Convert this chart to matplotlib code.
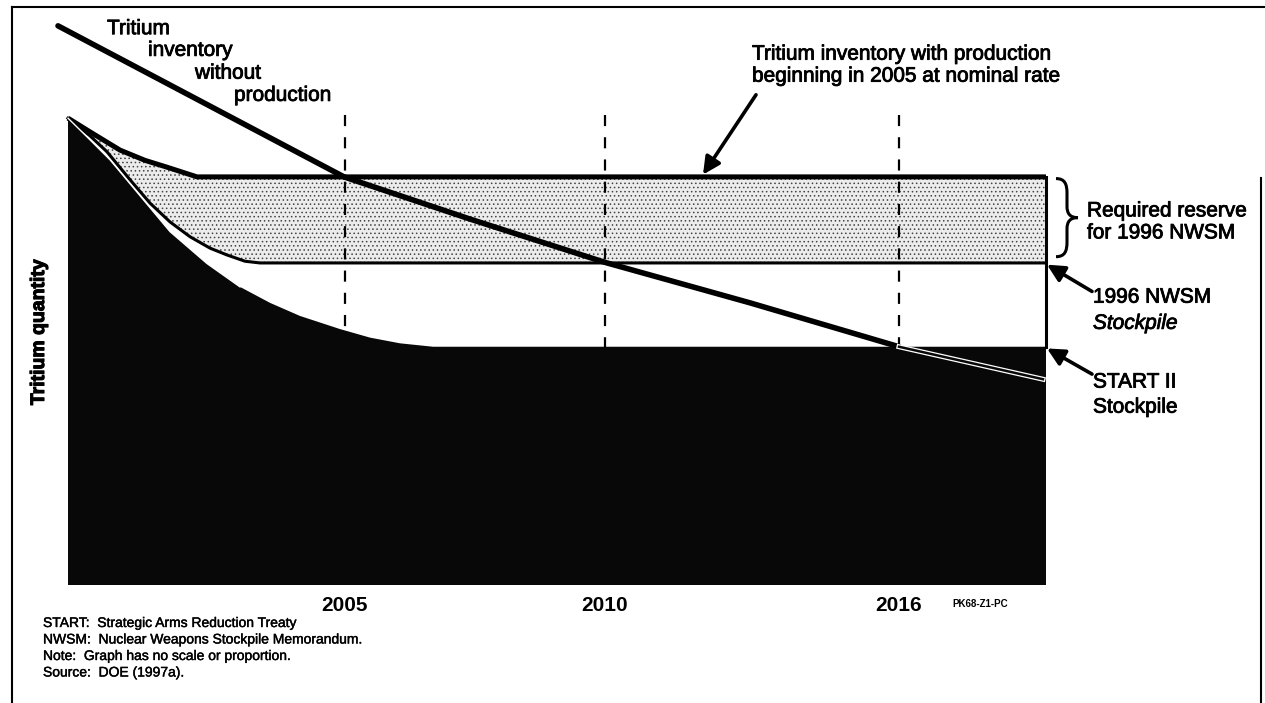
import matplotlib.pyplot as plt
import matplotlib.patheffects as pe
from matplotlib.lines import Line2D
from matplotlib.path import Path
from matplotlib.patches import PathPatch

plt.rcParams['font.family'] = ['Liberation Sans', 'DejaVu Sans']
plt.rcParams['hatch.color'] = '#444444'
plt.rcParams['hatch.linewidth'] = 0.6

# arbitrary units: "graph has no scale or proportion"
# x: time position (0..100), y: tritium quantity (0..100)
no_prod_x = [0.8, 29.4, 42.0, 55.5, 70.0, 84.9, 99.3]
no_prod_y = [98.1, 71.6, 64.2, 56.6, 49.5, 41.8, 36.1]

reserve_x = [1.8, 4.0, 7.0, 9.5, 11.7, 14.7, 99.6]
reserve_y = [81.9, 79.5, 76.3, 74.5, 73.3, 71.6, 71.6]

nwsm_x = [1.8, 4.0, 5.7, 8.0, 10.0, 12.0, 14.0, 16.0, 17.7, 19.5, 21.0, 99.6]
nwsm_y = [81.9, 78.8, 76.0, 71.1, 67.0, 63.7, 61.1, 59.1, 57.9, 56.8, 56.5, 56.5]

start2_x = [1.8, 4.0, 6.0, 9.0, 12.0, 15.7, 19.0, 22.0, 25.0, 29.0, 32.0, 35.0, 38.3, 99.6]
start2_y = [81.9, 78.1, 74.6, 68.3, 62.0, 56.4, 52.3, 49.5, 47.2, 44.9, 43.4, 42.4, 41.8, 41.8]

year_pos = [29.5, 55.5, 84.9]
year_labels = ['2005', '2010', '2016']

footnotes = [
    'START:  Strategic Arms Reduction Treaty',
    'NWSM:  Nuclear Weapons Stockpile Memorandum.',
    'Note:  Graph has no scale or proportion.',
    'Source:  DOE (1997a).',
]

heavy = [pe.withStroke(linewidth=0.6, foreground='black')]

fig = plt.figure(figsize=(12.65, 7.03), dpi=100)
ax = fig.add_axes([50 / 1265, (703 - 585) / 703, 1000 / 1265, 570 / 703])
ax.set_xlim(0, 100)
ax.set_ylim(0, 100)
for s in ax.spines.values():
    s.set_visible(False)
ax.set_yticks([])

# stippled reserve band
band_x = reserve_x + nwsm_x[::-1]
band_y = reserve_y + nwsm_y[::-1]
ax.fill(band_x, band_y, facecolor='#ececec', hatch='....', edgecolor='#444444', lw=0, zorder=1)

# dashed year markers
for xp in year_pos:
    ax.plot([xp, xp], [82.5, 40], color='black', lw=1.6, ls=(0, (5, 5)), zorder=2)

# START II stockpile (dark area)
dark_x = start2_x + [99.6, 1.8]
dark_y = start2_y + [0, 0]
ax.fill(dark_x, dark_y, facecolor='#080808', edgecolor='none', zorder=3)

# boundary lines
ax.plot(reserve_x, reserve_y, color='black', lw=3.6, solid_capstyle='butt', zorder=4)
ax.plot(nwsm_x, nwsm_y, color='black', lw=2.2, zorder=4)
ax.plot([99.6, 99.6], [71.6, 41.8], color='black', lw=2.2, zorder=4)
ax.plot(start2_x[:7], start2_y[:7], color='white', lw=1.0, zorder=4)

# tritium without production
ax.plot(no_prod_x[:6], no_prod_y[:6], color='black', lw=4.0, solid_capstyle='round', zorder=5)
ax.plot(no_prod_x[5:], no_prod_y[5:], color='white', lw=3.6, zorder=5)
ax.plot(no_prod_x[5:], no_prod_y[5:], color='#080808', lw=1.8, zorder=6)

ax.set_xticks(year_pos)
ax.set_xticklabels(year_labels, fontsize=15, fontweight='bold')
ax.tick_params(axis='x', length=0, pad=8)
ax.text(93.0, -3.3, 'PK68-Z1-PC', fontsize=7, fontweight='bold', ha='center', va='center')

ax.set_ylabel('Tritium quantity', fontsize=14, fontweight='bold',
              path_effects=[pe.withStroke(linewidth=0.8, foreground='black')])
ax.yaxis.set_label_coords(-0.002, 0.444)

# labels
left_lbl = [('Tritium', 5.7, 97.6), ('inventory', 9.8, 93.8), ('without', 14.5, 89.8), ('production', 18.4, 85.9)]
for t, xp, yp in left_lbl:
    ax.text(xp, yp, t, fontsize=15, ha='left', va='center', clip_on=False, path_effects=heavy)

ax.text(70.2, 91.2, 'Tritium inventory with production\nbeginning in 2005 at nominal rate',
        fontsize=15, ha='left', va='center', linespacing=1.2, path_effects=heavy)

arrow = dict(arrowstyle='-|>', lw=2.6, color='black', mutation_scale=26, shrinkA=0, shrinkB=0)
ax.annotate('', xy=(65.3, 72.0), xytext=(70.6, 86.0), arrowprops=arrow, zorder=7)
ax.annotate('', xy=(99.7, 56.2), xytext=(104.2, 51.5), arrowprops=arrow, annotation_clip=False, zorder=7)
ax.annotate('', xy=(99.7, 41.5), xytext=(104.2, 37.0), arrowprops=arrow, annotation_clip=False, zorder=7)

ax.text(103.7, 63.7, 'Required reserve\nfor 1996 NWSM', fontsize=15, ha='left', va='center',
        linespacing=1.2, clip_on=False, path_effects=heavy)
ax.text(104.3, 50.5, '1996 NWSM', fontsize=15, ha='left', va='center', clip_on=False, path_effects=heavy)
ax.text(104.3, 45.9, 'Stockpile', fontsize=15, style='italic', ha='left', va='center', clip_on=False,
        path_effects=heavy)
ax.text(104.3, 35.6, 'START II', fontsize=15, ha='left', va='center', clip_on=False, path_effects=heavy)
ax.text(104.3, 31.2, 'Stockpile', fontsize=15, ha='left', va='center', clip_on=False, path_effects=heavy)

# curly brace
x0, xm, xt = 100.6, 101.7, 102.8
yt, yb = 71.3, 57.6
ym = (yt + yb) / 2
verts = [(x0, yt), (xm - 0.2, yt), (xm, yt - 1.0), (xm, yt - 2.6),
         (xm, ym + 2.0),
         (xm, ym + 0.7), (xm + 0.3, ym), (xt, ym),
         (xm + 0.3, ym), (xm, ym - 0.7), (xm, ym - 2.0),
         (xm, yb + 2.6),
         (xm, yb + 1.0), (xm - 0.2, yb), (x0, yb)]
codes = [Path.MOVETO, Path.CURVE4, Path.CURVE4, Path.CURVE4,
         Path.LINETO,
         Path.CURVE4, Path.CURVE4, Path.CURVE4,
         Path.CURVE4, Path.CURVE4, Path.CURVE4,
         Path.LINETO,
         Path.CURVE4, Path.CURVE4, Path.CURVE4]
ax.add_patch(PathPatch(Path(verts, codes), facecolor='none', edgecolor='black', lw=2.2, clip_on=False))

# footnotes
for i, t in enumerate(footnotes):
    fig.text(43 / 1265, 1 - (623 + i * 16.5) / 703, t, fontsize=10, ha='left', va='center',
             path_effects=[pe.withStroke(linewidth=0.3, foreground='black')])

# page frame
fig.add_artist(Line2D([12 / 1265, 12 / 1265], [0, 1 - 7 / 703], color='black', lw=1.5, transform=fig.transFigure))
fig.add_artist(Line2D([12 / 1265, 1], [1 - 7 / 703, 1 - 7 / 703], color='black', lw=1.5, transform=fig.transFigure))
fig.add_artist(Line2D([1261 / 1265, 1261 / 1265], [0, 1 - 178 / 703], color='black', lw=1.5, transform=fig.transFigure))

fig.savefig('out.png', dpi=100)
